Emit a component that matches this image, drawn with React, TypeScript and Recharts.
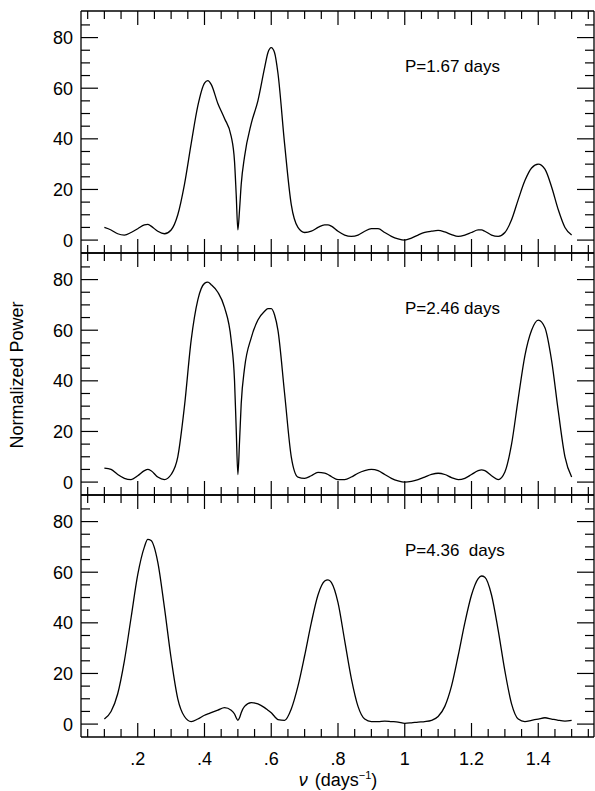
import { LineChart, Line, XAxis, YAxis } from 'recharts'

// frequency grid (days^-1), shared by the three periodograms
const nu = [
  0.10, 0.12, 0.14, 0.16, 0.18, 0.20, 0.22, 0.23, 0.24, 0.26,
  0.28, 0.30, 0.32, 0.34, 0.36, 0.38, 0.40, 0.41, 0.42, 0.44,
  0.46, 0.48, 0.49, 0.495, 0.50, 0.505, 0.51, 0.52, 0.54, 0.56,
  0.58, 0.59, 0.60, 0.61, 0.62, 0.64, 0.66, 0.68, 0.70, 0.72,
  0.74, 0.76, 0.77, 0.78, 0.80, 0.82, 0.84, 0.86, 0.88, 0.90,
  0.92, 0.94, 0.96, 0.98, 1.00, 1.02, 1.04, 1.06, 1.08, 1.10,
  1.12, 1.14, 1.16, 1.18, 1.20, 1.22, 1.23, 1.24, 1.26, 1.28,
  1.30, 1.32, 1.34, 1.36, 1.38, 1.40, 1.42, 1.44, 1.46, 1.48, 1.50,
]

// P = 1.67 days
const power1 = [
  5, 4, 2.5, 2, 3, 4.5, 6, 6.2, 5.5, 3.5,
  2.5, 4, 10, 22, 38, 53, 62, 63, 61.5, 54,
  48, 41, 31, 18, 4, 12, 22, 33, 46, 55,
  68, 74, 76, 74, 66, 38, 14, 5, 3, 3.5,
  5, 6, 6, 5.5, 3.5, 2, 1.5, 2, 3.5, 4.5,
  4.5, 3, 1.5, 0.5, 0, 0.8, 2, 3, 3.5, 3.8,
  3.2, 2.2, 1.5, 2, 3, 4, 4, 3.5, 2, 1.5,
  3, 8, 16, 23.5, 28.5, 30, 28, 21, 12, 5, 2,
]

// P = 2.46 days
const power2 = [
  5.5, 5, 3, 1.5, 1, 2.5, 4.5, 5, 4.5, 2,
  1, 3, 10, 30, 56, 72, 78.5, 79, 78, 75,
  69, 56, 40, 21, 3, 16, 31, 45, 57, 64,
  67.5, 68.5, 68.5, 66, 60, 35, 10, 2, 1.5, 2.5,
  3.8, 3.5, 3, 2.2, 1, 1, 2, 3.5, 4.5, 5,
  4.5, 3, 1.5, 0.5, 0, 0.3, 1, 2, 3, 3.5,
  3, 1.8, 1, 1.5, 3, 4.5, 4.8, 4.5, 2.5, 1,
  4, 15, 33, 50, 60, 64, 61, 48, 28, 10, 2,
]

// P = 4.36 days
const power3 = [
  2, 5, 12, 25, 42, 59, 70, 73, 72.5, 64,
  46, 26, 10, 3, 1, 2, 3.5, 4, 4.5, 5.5,
  6.5, 5.5, 4, 2.5, 1.5, 2.5, 4.5, 7, 8.5, 8,
  6.5, 5.5, 4.5, 3, 1.8, 1.5, 6, 15, 27, 40,
  51, 56.5, 57, 56, 48, 33, 18, 7, 2, 1,
  1, 1.2, 1, 0.8, 0.3, 0.5, 0.8, 1, 1.5, 3,
  7, 15, 27, 40, 51, 57.5, 58.5, 58, 51, 37,
  21, 8, 2, 1, 1.5, 2, 2.5, 2, 1.5, 1.2, 1.5,
]

const panelLabels = ['P=1.67 days', 'P=2.46 days', 'P=4.36  days']

const xMajor = [0.2, 0.4, 0.6, 0.8, 1.0, 1.2, 1.4]
const xMajorLabels = ['.2', '.4', '.6', '.8', '1', '1.2', '1.4']
const xMinor = [
  0.05, 0.1, 0.15, 0.25, 0.3, 0.35, 0.45, 0.5, 0.55, 0.65, 0.7, 0.75,
  0.85, 0.9, 0.95, 1.05, 1.1, 1.15, 1.25, 1.3, 1.35, 1.45, 1.5, 1.55,
]
const yMajor = [0, 20, 40, 60, 80]
const yMinor = [5, 10, 15, 25, 30, 35, 45, 50, 55, 65, 70, 75, 85]

const W = 595
const H = 791
const PANEL_TOPS = [11, 253, 495]
const PANEL_H = 242
const FONT = '"Liberation Sans", Arial, Helvetica, sans-serif'
const xTicks = [...xMajor, ...xMinor].sort((a, b) => a - b)
const yTicks = [...yMajor, ...yMinor].sort((a, b) => a - b)

const near = (list: number[], v: number) => list.findIndex((m) => Math.abs(m - v) < 1e-6)

function XTick(props: any) {
  const { x, y, payload, side, showLabels } = props
  const i = near(xMajor, payload.value)
  const len = i >= 0 ? 14 : 8
  const dir = side === 'bottom' ? -1 : 1
  return (
    <g>
      <line x1={x} y1={y} x2={x} y2={y + dir * len} stroke="#000" strokeWidth={1.2} />
      {showLabels && i >= 0 && (
        <text x={x} y={y + 28} textAnchor="middle" fontSize={18} fontFamily={FONT} fill="#000">
          {xMajorLabels[i]}
        </text>
      )}
    </g>
  )
}

function YTick(props: any) {
  const { x, y, payload, side } = props
  const major = near(yMajor, payload.value) >= 0
  const len = major ? 17 : 9
  const dir = side === 'left' ? 1 : -1
  return (
    <g>
      <line x1={x} y1={y} x2={x + dir * len} y2={y} stroke="#000" strokeWidth={1.2} />
      {side === 'left' && major && (
        <text x={x - 8} y={y + 6.5} textAnchor="end" fontSize={18} fontFamily={FONT} fill="#000">
          {payload.value}
        </text>
      )}
    </g>
  )
}

function Panel({ power, index }: { power: number[]; index: number }) {
  const top = PANEL_TOPS[index]
  const data = nu.map((v, i) => ({ nu: v, p: power[i] }))
  const axisLine = { stroke: '#000', strokeWidth: 1.3 }
  const xCommon = {
    dataKey: 'nu',
    type: 'number' as const,
    domain: [0.03, 1.567],
    ticks: xTicks,
    interval: 0,
    tickSize: 0,
    tickMargin: 0,
    height: 1,
    allowDataOverflow: true,
    axisLine,
    tickLine: false,
  }
  const yCommon = {
    type: 'number' as const,
    domain: [-5.1, 90.5],
    ticks: yTicks,
    interval: 0,
    tickSize: 0,
    tickMargin: 0,
    allowDataOverflow: true,
    axisLine,
    tickLine: false,
  }
  return (
    <div style={{ position: 'absolute', left: 0, top: 0 }}>
      <LineChart
        width={W}
        height={H}
        data={data}
        margin={{ top: top - 1, right: 0, bottom: H - top - PANEL_H - 1, left: 0 }}
      >
        <XAxis
          {...xCommon}
          xAxisId="b"
          orientation="bottom"
          tick={(p: any) => <XTick {...p} side="bottom" showLabels={index === 2} />}
        />
        <XAxis {...xCommon} xAxisId="t" orientation="top" tick={(p: any) => <XTick {...p} side="top" />} />
        <YAxis {...yCommon} yAxisId="l" orientation="left" width={81} tick={(p: any) => <YTick {...p} side="left" />} />
        <YAxis {...yCommon} yAxisId="r" orientation="right" width={1} tick={(p: any) => <YTick {...p} side="right" />} />
        <Line
          xAxisId="b"
          yAxisId="l"
          type="monotone"
          dataKey="p"
          stroke="#000"
          strokeWidth={1.3}
          dot={false}
          isAnimationActive={false}
        />
      </LineChart>
    </div>
  )
}

export default function App() {
  const powers = [power1, power2, power3]
  return (
    <div style={{ position: 'absolute', left: 0, top: 0, width: W, height: H, background: '#fff' }}>
      {powers.map((p, i) => (
        <Panel key={i} power={p} index={i} />
      ))}
      <svg width={W} height={H} style={{ position: 'absolute', left: 0, top: 0, pointerEvents: 'none' }}>
        {panelLabels.map((t, i) => (
          <text
            key={t}
            x={405}
            y={PANEL_TOPS[i] + 61}
            fontSize={17}
            fontFamily={FONT}
            fill="#000"
            style={{ whiteSpace: 'pre' }}
          >
            {t}
          </text>
        ))}
        <text
          transform="translate(23,375) rotate(-90)"
          textAnchor="middle"
          fontSize={18}
          fontFamily={FONT}
          fill="#000"
        >
          Normalized Power
        </text>
        <text x={338} y={786} textAnchor="middle" fontSize={18} fontFamily={FONT} fill="#000">
          <tspan fontStyle="italic">ν</tspan>
          <tspan dx={7}>(days</tspan>
          <tspan dy={-7} fontSize={11}>−1</tspan>
          <tspan dy={7}>)</tspan>
        </text>
      </svg>
    </div>
  )
}
